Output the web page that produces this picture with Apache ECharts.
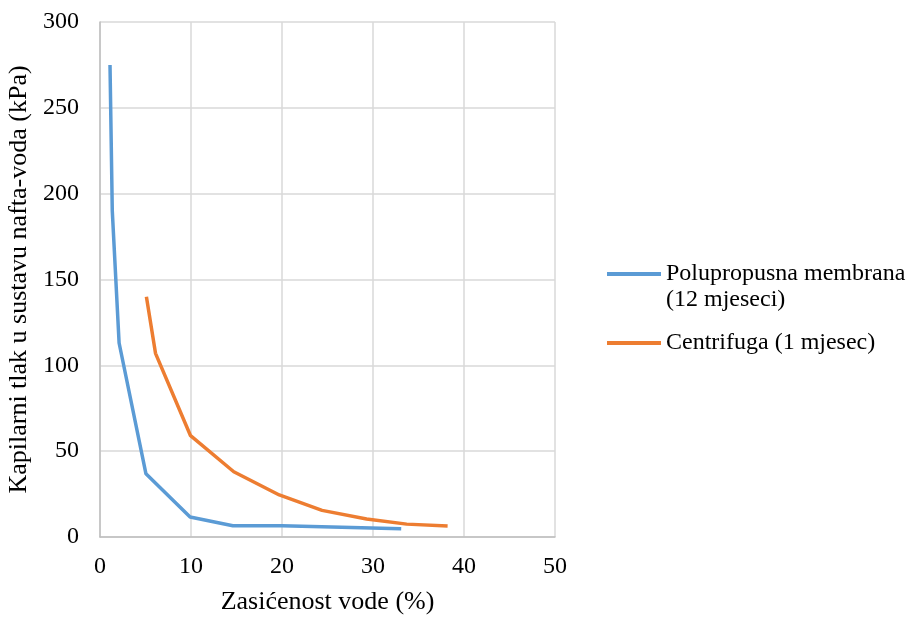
<!DOCTYPE html>
<html>
<head>
<meta charset="utf-8">
<script src="https://cdn.jsdelivr.net/npm/echarts@6/dist/echarts.min.js"></script>
<style>html,body{margin:0;padding:0;background:#fff;}#c{width:907px;height:617px;}</style>
</head>
<body>
<div id="c"></div>
<script>
const seriesNames = ['Polupropusna membrana\n(12 mjeseci)', 'Centrifuga (1 mjesec)'];
const membranaX = [1.1, 1.35, 2.1, 5.05, 9.9, 14.6, 20.0, 33.1];
const membranaY = [275, 190, 113, 36.8, 11.6, 6.6, 6.6, 4.8];
const centrifugaX = [5.1, 6.1, 9.95, 14.7, 19.7, 24.4, 29.3, 33.7, 38.2];
const centrifugaY = [140, 107, 59, 38, 24.5, 15.5, 10.5, 7.5, 6.4];
const xTicks = [0, 10, 20, 30, 40, 50];
const yTicks = [0, 50, 100, 150, 200, 250, 300];
const xTitle = 'Zasićenost vode (%)';
const yTitle = 'Kapilarni tlak u sustavu nafta-voda (kPa)';

const font = 'Liberation Serif, Times New Roman, serif';
const pairs = (xs, ys) => xs.map((x, i) => [x, ys[i]]);

const chart = echarts.init(document.getElementById('c'));
chart.setOption({
  animation: false,
  backgroundColor: '#fff',
  textStyle: { fontFamily: font },
  grid: { left: 100, right: 352, top: 22, bottom: 80, containLabel: false, outerBoundsMode: 'none' },
  xAxis: {
    type: 'value', min: xTicks[0], max: xTicks[xTicks.length - 1], interval: 10,
    name: xTitle, nameLocation: 'middle', nameGap: 52,
    nameTextStyle: { fontFamily: font, fontSize: 26, color: '#000' },
    axisLine: { show: true, lineStyle: { color: '#bfbfbf', width: 1.5 } },
    axisTick: { show: false },
    axisLabel: { fontFamily: font, fontSize: 24, color: '#000', margin: 18 },
    splitLine: { show: true, lineStyle: { color: '#d9d9d9', width: 1.5 } }
  },
  yAxis: {
    type: 'value', min: yTicks[0], max: yTicks[yTicks.length - 1], interval: 50,
    name: yTitle, nameLocation: 'middle', nameGap: 55,
    nameTextStyle: { fontFamily: font, fontSize: 26, color: '#000' },
    axisLine: { show: true, lineStyle: { color: '#bfbfbf', width: 1.5 } },
    axisTick: { show: false },
    axisLabel: { fontFamily: font, fontSize: 24, color: '#000', margin: 21 },
    splitLine: { show: true, lineStyle: { color: '#d9d9d9', width: 1.5 } }
  },
  legend: {
    orient: 'vertical', left: 602, top: 230, itemGap: 17,
    itemWidth: 54, itemHeight: 4,
    icon: 'rect',
    formatter: function (name) { return name.indexOf('\n') >= 0 ? '\n' + name : name; },
    textStyle: { fontFamily: font, fontSize: 24, color: '#000', lineHeight: 26 },
    data: seriesNames
  },
  series: [
    {
      name: seriesNames[0], type: 'line', data: pairs(membranaX, membranaY),
      showSymbol: false, symbol: 'none',
      lineStyle: { color: '#5B9BD5', width: 3.5 }, itemStyle: { color: '#5B9BD5' }
    },
    {
      name: seriesNames[1], type: 'line', data: pairs(centrifugaX, centrifugaY),
      showSymbol: false, symbol: 'none',
      lineStyle: { color: '#ED7D31', width: 3.5 }, itemStyle: { color: '#ED7D31' }
    }
  ]
});
</script>
</body>
</html>
